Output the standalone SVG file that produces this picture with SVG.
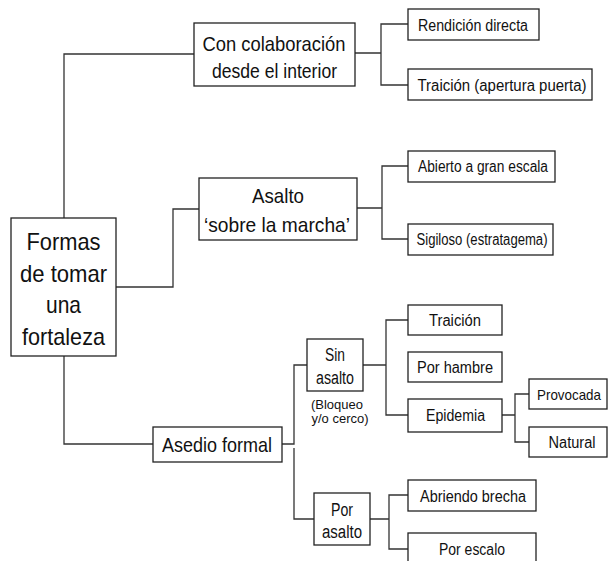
<svg xmlns="http://www.w3.org/2000/svg" width="608" height="561" viewBox="0 0 608 561">
<style>
.box{fill:#fff;stroke:#222;stroke-width:1.3}
.ln{fill:none;stroke:#333;stroke-width:1.3}
text{font-family:"Liberation Sans",Arial,sans-serif;fill:#111;text-anchor:middle}
.r{font-size:24px}
.m{font-size:21px}
.s{font-size:16px}
.n{font-size:18px}
.a{font-size:13.5px}
</style>
<rect width="608" height="561" fill="#fff"/>
<g id="connectors">
<path class="ln" d="M64,218 V54 H194"/>
<path class="ln" d="M116,287 H173 V209 H199"/>
<path class="ln" d="M64,356 V444 H153"/>
<path class="ln" d="M355,53 H381 M408,24 H381 V85 H408"/>
<path class="ln" d="M357,208 H382 M408,166 H382 V239 H408"/>
<path class="ln" d="M282,444 H294 V365 H307"/>
<path class="ln" d="M294,448 V519 H314"/>
<path class="ln" d="M363,365 H386 M408,320 H386 V415 H408"/>
<path class="ln" d="M502,415 H515 M529,394 H515 V442 H529"/>
<path class="ln" d="M370,519 H389 M408,495 H389 V549 H408"/>
</g>
<g id="root">
<rect class="box" x="11" y="218" width="105" height="138"/>
<text class="r" x="63.5" y="250" textLength="74" lengthAdjust="spacingAndGlyphs">Formas</text>
<text class="r" x="63.5" y="282" textLength="87" lengthAdjust="spacingAndGlyphs">de tomar</text>
<text class="r" x="63.5" y="313" textLength="35" lengthAdjust="spacingAndGlyphs">una</text>
<text class="r" x="63.5" y="345" textLength="83" lengthAdjust="spacingAndGlyphs">fortaleza</text>
</g>
<g id="colaboracion">
<rect class="box" x="194" y="23" width="161" height="63"/>
<text class="m" x="274" y="51" textLength="143" lengthAdjust="spacingAndGlyphs">Con colaboración</text>
<text class="m" x="274.5" y="78" textLength="125" lengthAdjust="spacingAndGlyphs">desde el interior</text>
</g>
<g id="asalto-marcha">
<rect class="box" x="199" y="178" width="158" height="62"/>
<text class="m" x="278" y="203" textLength="52" lengthAdjust="spacingAndGlyphs">Asalto</text>
<text class="m" x="277" y="232" textLength="146" lengthAdjust="spacingAndGlyphs">‘sobre la marcha’</text>
</g>
<g id="asedio">
<rect class="box" x="153" y="427" width="129" height="35"/>
<text class="m" x="217" y="452" textLength="110" lengthAdjust="spacingAndGlyphs">Asedio formal</text>
</g>
<g id="rendicion">
<rect class="box" x="408" y="9" width="131" height="31"/>
<text class="s" x="473" y="30.5" textLength="110" lengthAdjust="spacingAndGlyphs">Rendición directa</text>
</g>
<g id="traicion-puerta">
<rect class="box" x="408" y="69" width="184" height="31"/>
<text class="s" x="502" y="90.5" textLength="169" lengthAdjust="spacingAndGlyphs">Traición (apertura puerta)</text>
</g>
<g id="abierto">
<rect class="box" x="408" y="151" width="147" height="31"/>
<text class="s" x="483" y="172" textLength="130" lengthAdjust="spacingAndGlyphs">Abierto a gran escala</text>
</g>
<g id="sigiloso">
<rect class="box" x="408" y="224" width="145" height="31"/>
<text class="s" x="482" y="245" textLength="131" lengthAdjust="spacingAndGlyphs">Sigiloso (estratagema)</text>
</g>
<g id="sin-asalto">
<rect class="box" x="307" y="339" width="56" height="52"/>
<text class="n" x="335" y="361" textLength="20" lengthAdjust="spacingAndGlyphs">Sin</text>
<text class="n" x="335" y="384" textLength="38" lengthAdjust="spacingAndGlyphs">asalto</text>
<text class="a" x="337" y="409" textLength="52" lengthAdjust="spacingAndGlyphs">(Bloqueo</text>
<text class="a" x="340" y="423" textLength="57" lengthAdjust="spacingAndGlyphs">y/o cerco)</text>
</g>
<g id="por-asalto">
<rect class="box" x="314" y="493" width="56" height="52"/>
<text class="n" x="342" y="516" textLength="22" lengthAdjust="spacingAndGlyphs">Por</text>
<text class="n" x="342" y="538" textLength="40" lengthAdjust="spacingAndGlyphs">asalto</text>
</g>
<g id="traicion">
<rect class="box" x="408" y="305" width="94" height="30"/>
<text class="s" x="455" y="326" textLength="52" lengthAdjust="spacingAndGlyphs">Traición</text>
</g>
<g id="hambre">
<rect class="box" x="408" y="352" width="94" height="30"/>
<text class="s" x="455" y="373" textLength="76" lengthAdjust="spacingAndGlyphs">Por hambre</text>
</g>
<g id="epidemia">
<rect class="box" x="408" y="399" width="94" height="33"/>
<text class="s" x="455.5" y="421" textLength="59" lengthAdjust="spacingAndGlyphs">Epidemia</text>
</g>
<g id="provocada">
<rect class="box" x="529" y="379" width="78" height="30"/>
<text class="s" x="569" y="400" font-size="15" style="font-size:15px" textLength="64" lengthAdjust="spacingAndGlyphs">Provocada</text>
</g>
<g id="natural">
<rect class="box" x="529" y="427" width="78" height="30"/>
<text class="s" x="572" y="448" textLength="47" lengthAdjust="spacingAndGlyphs">Natural</text>
</g>
<g id="brecha">
<rect class="box" x="408" y="480" width="128" height="31"/>
<text class="s" x="473" y="501.5" textLength="106" lengthAdjust="spacingAndGlyphs">Abriendo brecha</text>
</g>
<g id="escalo">
<rect class="box" x="408" y="533" width="128" height="40"/>
<text class="s" x="472" y="555" textLength="66" lengthAdjust="spacingAndGlyphs">Por escalo</text>
</g>
</svg>
